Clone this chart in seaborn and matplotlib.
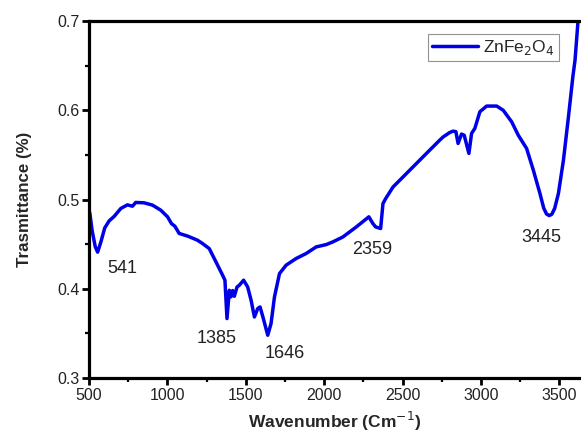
import matplotlib
matplotlib.use("Agg")
import matplotlib.pyplot as plt
from matplotlib.ticker import MultipleLocator, FormatStrFormatter
import pandas as pd
import seaborn as sns

# FTIR spectrum of ZnFe2O4
wavenumber = [500, 505, 520, 540, 555, 575, 600, 628, 660, 703, 745, 777, 798, 851,
              905, 958, 1001, 1026, 1048, 1075, 1129, 1192, 1224, 1267, 1310, 1352,
              1367, 1380, 1395, 1406, 1416, 1427, 1444, 1459, 1486, 1512, 1534, 1555,
              1576, 1591, 1612, 1640, 1661, 1683, 1715, 1757, 1821, 1885, 1949, 2013,
              2055, 2119, 2205, 2285, 2311, 2328, 2360, 2375, 2392, 2439, 2524, 2609,
              2673, 2737, 2758, 2800, 2822, 2840, 2854, 2876, 2893, 2923, 2940, 2961,
              2993, 3036, 3100, 3142, 3196, 3238, 3291, 3334, 3376, 3400, 3418, 3435,
              3452, 3470, 3494, 3526, 3558, 3586, 3600, 3619, 3640]
transmittance = [0.487, 0.485, 0.465, 0.447, 0.441, 0.452, 0.468, 0.476, 0.481, 0.490,
                 0.494, 0.4925, 0.4967, 0.4963, 0.4937, 0.488, 0.4806, 0.473, 0.470,
                 0.462, 0.459, 0.4544, 0.4507, 0.445, 0.430, 0.4152, 0.4096, 0.3666,
                 0.3983, 0.391, 0.398, 0.3916, 0.402, 0.404, 0.4096, 0.402, 0.387,
                 0.3684, 0.3778, 0.3796, 0.3666, 0.3479, 0.361, 0.391, 0.417, 0.4264,
                 0.4339, 0.4395, 0.4469, 0.4495, 0.4525, 0.458, 0.4693, 0.4806, 0.473,
                 0.4693, 0.4675, 0.4955, 0.501, 0.514, 0.529, 0.544, 0.5553, 0.5665,
                 0.570, 0.575, 0.5766, 0.576, 0.5628, 0.5733, 0.572, 0.5516, 0.574,
                 0.5797, 0.5983, 0.6047, 0.6047, 0.600, 0.587, 0.572, 0.5572, 0.5329,
                 0.5068, 0.4905, 0.4838, 0.4820, 0.4835, 0.4900, 0.5068, 0.5441, 0.5927,
                 0.6375, 0.6563, 0.700, 0.740]

# Peak labels: (text, x, y)
peak_labels = ["541", "1385", "1646", "2359", "3445"]
peak_x = [711, 1312, 1746, 2309, 3383]
peak_y = [0.423, 0.3445, 0.3277, 0.4443, 0.4578]

df = pd.DataFrame({"Wavenumber": wavenumber, "Transmittance": transmittance})

sns.set_style("ticks")
plt.rcParams["font.family"] = ["Liberation Sans", "DejaVu Sans"]

fig = plt.figure(figsize=(5.81, 4.34), dpi=100)
ax = fig.add_axes([0.1532, 0.129, 0.8468, 0.8226])

sns.lineplot(data=df, x="Wavenumber", y="Transmittance", sort=False,
             color="#0000e6", linewidth=2.5, label="ZnFe$_2$O$_4$", ax=ax)

for t, x, y in zip(peak_labels, peak_x, peak_y):
    ax.text(x, y, t, ha="center", va="center", fontsize=13, color="#222222")

ax.set_xlim(500, 3638)
ax.set_ylim(0.3, 0.7)
ax.xaxis.set_major_locator(MultipleLocator(500))
ax.xaxis.set_minor_locator(MultipleLocator(250))
ax.yaxis.set_major_locator(MultipleLocator(0.1))
ax.yaxis.set_minor_locator(MultipleLocator(0.05))
ax.yaxis.set_major_formatter(FormatStrFormatter("%.1f"))

for side in ["left", "bottom", "top"]:
    ax.spines[side].set_linewidth(2.3)
    ax.spines[side].set_color("black")
ax.spines["right"].set_visible(False)

ax.tick_params(which="major", direction="out", length=5, width=2, labelsize=11.5,
               colors="black", labelcolor="#222222", pad=2)
ax.tick_params(which="minor", direction="out", length=3, width=1.6, colors="black")

ax.set_xlabel("Wavenumber (Cm$^{-1}$)", fontsize=12.5, fontweight="bold", labelpad=5)
ax.set_ylabel("Trasmittance (%)", fontsize=12.2, fontweight="bold", labelpad=18)

leg = ax.legend(loc="upper right", bbox_to_anchor=(0.955, 0.965), fontsize=12.5,
                frameon=True, fancybox=False, handlelength=2.6, handletextpad=0.3,
                borderpad=0.25, borderaxespad=0)
leg.get_frame().set_edgecolor("#777777")
leg.get_frame().set_linewidth(0.8)

fig.savefig("out.png", dpi=100)
